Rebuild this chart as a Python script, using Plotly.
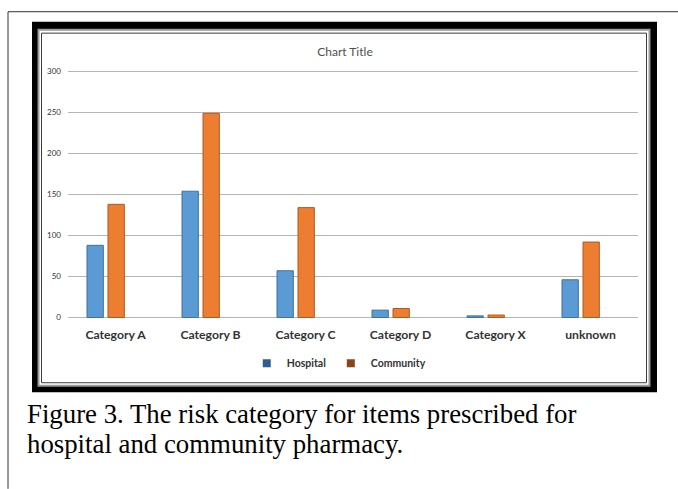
import plotly.graph_objects as go

categories = ["Category A", "Category B", "Category C", "Category D", "Category X", "unknown"]
hospital = [88, 154, 57, 9, 2, 46]
community = [138, 249, 134, 11, 3, 92]
y_ticks = [0, 50, 100, 150, 200, 250, 300]
series_names = ["Hospital", "Community"]

W, H = 678, 489
L, R, T, B = 68, 638, 69.5, 319.5  # plot area in pixels (range padded so 0 and 300 gridlines show)
Y0, Y1 = 318, 71  # pixel rows of 0 and 300
PAD = (B - Y0) / ((Y0 - Y1) / 300)


def px(x):
    return (x - L) / (R - L)


def py(y):
    return (B - y) / (B - T)


fig = go.Figure()
fig.add_trace(go.Bar(x=categories, y=hospital, name=series_names[0], showlegend=False,
                     width=0.172, offset=-0.30,
                     marker=dict(color="#5B9BD5", line=dict(color="#41719C", width=1))))
fig.add_trace(go.Bar(x=categories, y=community, name=series_names[1], showlegend=False,
                     width=0.172, offset=-0.079,
                     marker=dict(color="#ED7D31", line=dict(color="#AE5A21", width=1))))
# legend-only entries (darker swatches as in the reference)
fig.add_trace(go.Scatter(x=[None], y=[None], mode="markers", name=series_names[0],
                         marker=dict(symbol="square", size=8, color="#2F5C8F")))
fig.add_trace(go.Scatter(x=[None], y=[None], mode="markers", name=series_names[1],
                         marker=dict(symbol="square", size=8, color="#8A4419")))

shapes = []
# outer thin page border (top and left)
shapes.append(dict(type="line", xref="paper", yref="paper", x0=px(8), x1=px(679), y0=py(11), y1=py(11),
                   line=dict(color="#333333", width=1), layer="below"))
shapes.append(dict(type="line", xref="paper", yref="paper", x0=px(8), x1=px(8), y0=py(11), y1=py(490),
                   line=dict(color="#333333", width=1), layer="below"))
# thick black frame
shapes.append(dict(type="rect", xref="paper", yref="paper", x0=px(32), x1=px(657), y0=py(21), y1=py(393),
                   fillcolor="black", line=dict(width=0), layer="below"))
shapes.append(dict(type="rect", xref="paper", yref="paper", x0=px(38.5), x1=px(649.5), y0=py(29), y1=py(386.5),
                   fillcolor="white", line=dict(color="#9a9a9a", width=2), layer="below"))
shapes.append(dict(type="rect", xref="paper", yref="paper", x0=px(41.5), x1=px(646.5), y0=py(32.5), y1=py(383.5),
                   fillcolor="white", line=dict(color="#3a3a3a", width=1), layer="below"))

fig.update_layout(
    width=W, height=H,
    margin=dict(l=L, r=W - R, t=T, b=H - B, pad=0),
    paper_bgcolor="white", plot_bgcolor="rgba(0,0,0,0)",
    barmode="overlay",
    shapes=shapes,
    showlegend=True,
    legend=dict(orientation="h", x=0.475, xanchor="center", y=py(364), yanchor="middle",
                font=dict(family="Lato", size=10.5, color="#333333", weight="bold"),
                itemwidth=30, tracegroupgap=0, bgcolor="rgba(0,0,0,0)"),
    title=dict(text="Chart Title", x=345 / W, xanchor="center", y=1 - 52 / H, yanchor="middle",
               font=dict(family="Lato", size=12, color="#505050")),
    font=dict(family="Lato"),
)
fig.update_xaxes(showgrid=False, showline=False, ticks="", zeroline=False,
                 tickfont=dict(family="Lato", size=12.2, color="#333333", weight="bold"), ticklabelstandoff=7)
fig.update_yaxes(range=[-PAD, 300 + PAD], tickvals=y_ticks, showgrid=True, gridcolor="#b5b5b5", gridwidth=1,
                 zeroline=False, showline=False, ticks="",
                 tickfont=dict(family="Lato", size=8, color="#333333"), ticklabelstandoff=6)

fig.add_annotation(text="Figure 3. The risk category for items prescribed for", xref="paper", yref="paper",
                   x=px(25), y=py(414.5), xanchor="left", yanchor="middle", showarrow=False,
                   font=dict(family="Liberation Serif", size=26.8, color="black"))
fig.add_annotation(text="hospital and community pharmacy.", xref="paper", yref="paper",
                   x=px(25), y=py(445), xanchor="left", yanchor="middle", showarrow=False,
                   font=dict(family="Liberation Serif", size=26.8, color="black"))

fig.write_html("out.html")
